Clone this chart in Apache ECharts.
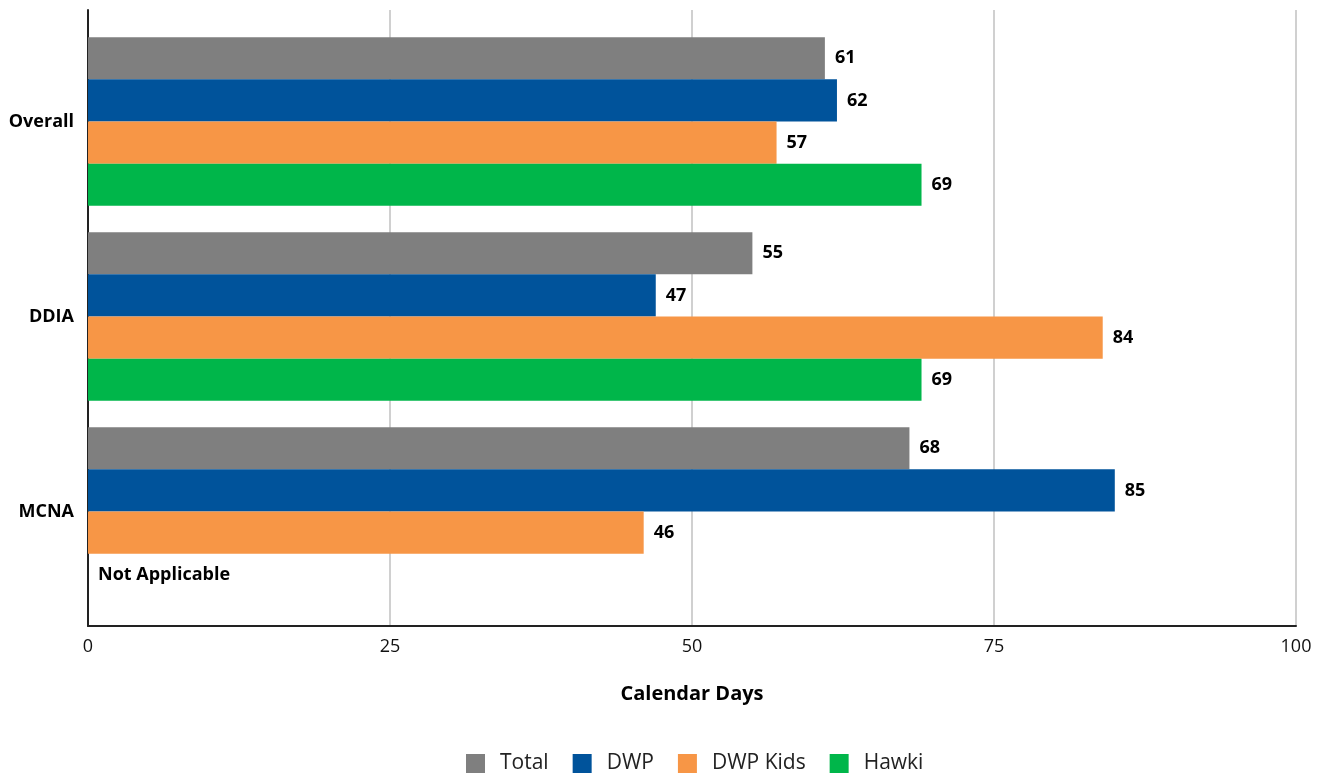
<!DOCTYPE html>
<html>
<head>
<meta charset="utf-8">
<script src="https://cdn.jsdelivr.net/npm/echarts@6/dist/echarts.min.js"></script>
<style>
  html, body { margin: 0; padding: 0; background: #fff; }
  #chart { width: 1323px; height: 774px; }
</style>
</head>
<body>
<div id="chart"></div>
<script>
var categories = ['Overall', 'DDIA', 'MCNA'];
var seriesNames = ['Total', 'DWP', 'DWP Kids', 'Hawki'];
var totalData = [61, 55, 68];
var dwpData = [62, 47, 85];
var dwpKidsData = [57, 84, 46];
var hawkiData = [69, 69, 0];
var xTicks = [0, 25, 50, 75, 100];

var COLORS = ['#7f7f7f', '#00539b', '#f79646', '#00b64a'];
var FONT = '"Open Sans", "Noto Sans", sans-serif';

var myChart = echarts.init(document.getElementById('chart'));

function makeSeries(name, data, color) {
  return {
    name: name,
    type: 'bar',
    xAxisIndex: 1,
    yAxisIndex: 1,
    data: data,
    barGap: '0%',
    barCategoryGap: '13.5%',
    itemStyle: { color: color },
    label: {
      show: true,
      position: 'right',
      distance: 10,
      color: '#000',
      fontWeight: 'bold',
      fontSize: 18,
      fontFamily: FONT,
      formatter: function (p) {
        // MCNA has no Hawki value
        if (p.seriesName === 'Hawki' && p.name === 'MCNA') return 'Not Applicable';
        return p.value;
      }
    }
  };
}

var option = {
  animation: false,
  color: COLORS,
  textStyle: { fontFamily: FONT },
  // grid 0: frame, gridlines and x axis; grid 1: the bars
  grid: [
    { left: 88, right: 27, top: 10, height: 616 },
    { left: 88, right: 27, top: 24, height: 585 }
  ],
  legend: {
    top: 748,
    left: 461,
    itemWidth: 19,
    itemHeight: 19,
    itemGap: 24,
    icon: 'rect',
    textStyle: { fontSize: 21, color: '#222', fontFamily: FONT, padding: [0, 0, 0, 10] },
    data: seriesNames
  },
  xAxis: [
    {
      gridIndex: 0,
      type: 'value',
      min: xTicks[0],
      max: xTicks[xTicks.length - 1],
      interval: 25,
      name: 'Calendar Days',
      nameLocation: 'middle',
      nameGap: 58,
      nameTextStyle: { fontSize: 20, fontWeight: 'bold', color: '#000', fontFamily: FONT },
      axisLine: { show: true, lineStyle: { color: '#222', width: 2 } },
      axisTick: { show: false },
      axisLabel: { fontSize: 18, color: '#111', margin: 12, fontFamily: FONT },
      splitLine: { show: true, lineStyle: { color: '#d0d0d0', width: 2 } }
    },
    {
      gridIndex: 1,
      type: 'value',
      min: xTicks[0],
      max: xTicks[xTicks.length - 1],
      show: false
    }
  ],
  yAxis: [
    {
      gridIndex: 0,
      type: 'value',
      min: 0,
      max: 1,
      axisLine: { show: true, lineStyle: { color: '#222', width: 2 } },
      axisTick: { show: false },
      axisLabel: { show: false },
      splitLine: { show: false }
    },
    {
      gridIndex: 1,
      type: 'category',
      data: categories,
      inverse: true,
      axisLine: { show: false },
      axisTick: { show: false },
      axisLabel: { fontSize: 18, fontWeight: 'bold', color: '#000', margin: 14, fontFamily: FONT }
    }
  ],
  series: [
    makeSeries(seriesNames[0], totalData, COLORS[0]),
    makeSeries(seriesNames[1], dwpData, COLORS[1]),
    makeSeries(seriesNames[2], dwpKidsData, COLORS[2]),
    makeSeries(seriesNames[3], hawkiData, COLORS[3])
  ]
};

myChart.setOption(option);
window.addEventListener('resize', function () {
  myChart.resize();
});
</script>
</body>
</html>
